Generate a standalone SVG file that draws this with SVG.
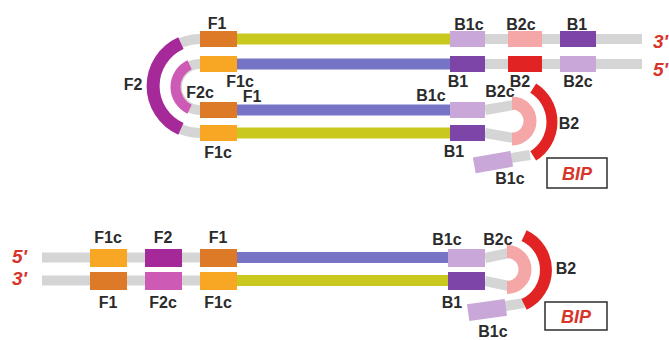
<svg xmlns="http://www.w3.org/2000/svg" width="669" height="340" viewBox="0 0 669 340">
  <style>
    .lbl { font-family: "Liberation Sans", Arial, sans-serif; font-weight: bold; font-size: 16px; fill: #2b2b2b; text-anchor: middle; }
    .end { font-family: "Liberation Sans", Arial, sans-serif; font-weight: bold; font-style: italic; font-size: 19px; fill: #d8352a; }
    .bip { font-family: "Liberation Sans", Arial, sans-serif; font-weight: bold; font-style: italic; font-size: 18px; fill: #d8352a; text-anchor: middle; }
    .bipbox { fill: none; stroke: #3a3a3a; stroke-width: 1.6; }
    .grey { stroke: #d5d5d5; stroke-width: 10; fill: none; }
    .yel { fill: #c9c81f; }
    .blu { fill: #7774c5; }
    .f1 { fill: #dc7a27; }
    .f1c { fill: #f7a724; }
    .f2 { fill: #a6299a; }
    .f2c { fill: #cd5bb5; }
    .b1 { fill: #7d45a8; }
    .b1c { fill: #c9a7d8; }
    .b2 { fill: #e12324; }
    .b2c { fill: #f5a7a8; }
    .arcF2 { fill: none; stroke: #a6299a; stroke-width: 13; }
    .arcF2c { fill: none; stroke: #cd5bb5; stroke-width: 10; }
    .arcB2 { fill: none; stroke: #e12324; stroke-width: 11; }
    .arcB2c { fill: none; stroke: #f5a7a8; stroke-width: 13; }
  </style>

  <!-- Upper structure: dumbbell with F loops and B loop -->
  <g id="connectors">
    <!-- grey single-strand linkers, upper structure -->
    <line class="grey" x1="485" y1="39" x2="642" y2="39"/>
    <line class="grey" x1="485" y1="64" x2="642" y2="64"/>
    <path class="grey" d="M200,39 A47,47 0 0 0 200,133"/>
    <path class="grey" d="M200,64 A23,23 0 0 0 200,110"/>
    <path class="grey" d="M485,110 L514,105"/>
    <path class="grey" d="M485,133 L514,138"/>
    <path class="grey" d="M505,159 L530,155"/>
    <!-- grey linkers, lower structure -->
    <line class="grey" x1="42" y1="257.5" x2="200" y2="257.5"/>
    <line class="grey" x1="42" y1="280.5" x2="200" y2="280.5"/>
    <path class="grey" d="M485,258 L509,253"/>
    <path class="grey" d="M485,281 L509,286"/>
    <path class="grey" d="M500,307 L524,303"/>
    <!-- double-stranded stems -->
    <rect class="yel" x="237" y="33.5" width="213" height="11"/>
    <rect class="blu" x="237" y="58.5" width="213" height="11"/>
    <rect class="blu" x="237" y="104.5" width="213" height="11"/>
    <rect class="yel" x="237" y="127.5" width="213" height="11"/>
    <rect class="blu" x="237" y="252" width="211" height="11"/>
    <rect class="yel" x="237" y="275" width="211" height="11"/>
  </g>

  <!-- upper structure, left loops -->
  <g id="loop-F2">
    <path class="arcF2" d="M180.9,43.1 A47,47 0 0 0 180.9,128.9"/>
    <text class="lbl" x="133" y="90">F2</text>
  </g>
  <g id="loop-F2c">
    <path class="arcF2c" d="M189.6,64.8 A24.5,24.5 0 0 0 189.6,109.2"/>
    <text class="lbl" x="200" y="98">F2c</text>
  </g>
  <g id="top-F1">
    <rect class="f1" x="200" y="31" width="37" height="16"/>
    <text class="lbl" x="217" y="29">F1</text>
  </g>
  <g id="top-F1c">
    <rect class="f1c" x="200" y="56" width="37" height="16"/>
    <text class="lbl" x="240" y="87">F1c</text>
  </g>
  <g id="mid-F1">
    <rect class="f1" x="200" y="102" width="37" height="16"/>
    <text class="lbl" x="252" y="102">F1</text>
  </g>
  <g id="mid-F1c">
    <rect class="f1c" x="200" y="125" width="37" height="16"/>
    <text class="lbl" x="218" y="158">F1c</text>
  </g>

  <!-- upper structure, right side -->
  <g id="top-B1c">
    <rect class="b1c" x="450" y="31" width="35" height="16"/>
    <text class="lbl" x="469" y="30">B1c</text>
  </g>
  <g id="top-B2c">
    <rect class="b2c" x="508" y="31" width="34" height="16"/>
    <text class="lbl" x="521" y="30">B2c</text>
  </g>
  <g id="top-B1">
    <rect class="b1" x="560" y="31" width="36" height="16"/>
    <text class="lbl" x="577" y="30">B1</text>
  </g>
  <g id="row2-B1">
    <rect class="b1" x="450" y="56" width="35" height="16"/>
    <text class="lbl" x="458" y="87">B1</text>
  </g>
  <g id="row2-B2">
    <rect class="b2" x="508" y="56" width="34" height="16"/>
    <text class="lbl" x="520" y="87">B2</text>
  </g>
  <g id="row2-B2c">
    <rect class="b1c" x="560" y="56" width="36" height="16"/>
    <text class="lbl" x="578" y="87">B2c</text>
  </g>
  <g id="ends-top">
    <text class="end" x="653" y="48">3'</text>
    <text class="end" x="653" y="76">5'</text>
  </g>
  <g id="mid-B1c">
    <rect class="b1c" x="450" y="102" width="35" height="16"/>
    <text class="lbl" x="431" y="101">B1c</text>
  </g>
  <g id="mid-B1">
    <rect class="b1" x="450" y="125" width="35" height="16"/>
    <text class="lbl" x="454" y="157">B1</text>
  </g>
  <g id="loop-B2c-top">
    <path class="arcB2c" d="M512,103 A18,18 0 0 1 512,139"/>
    <text class="lbl" x="500" y="97">B2c</text>
  </g>
  <g id="loop-B2-top">
    <path class="arcB2" d="M533.2,88.1 A40,40 0 0 1 533.2,155.9"/>
    <text class="lbl" x="569" y="129">B2</text>
  </g>
  <g id="tail-B1c-top">
    <rect class="b1c" x="-19" y="-8" width="38" height="16" transform="translate(493 162) rotate(-10)"/>
    <text class="lbl" x="510" y="184">B1c</text>
  </g>
  <g id="bip-top">
    <rect class="bipbox" x="547" y="158" width="60" height="30"/>
    <text class="bip" x="577" y="180">BIP</text>
  </g>

  <!-- Lower structure: linear BIP product -->
  <g id="ends-bottom">
    <text class="end" x="12" y="263">5'</text>
    <text class="end" x="12" y="285">3'</text>
  </g>
  <g id="low-F1c-top">
    <rect class="f1c" x="90" y="249" width="37" height="18"/>
    <text class="lbl" x="108" y="243">F1c</text>
  </g>
  <g id="low-F2-top">
    <rect class="f2" x="145" y="249" width="37" height="18"/>
    <text class="lbl" x="163" y="243">F2</text>
  </g>
  <g id="low-F1-top">
    <rect class="f1" x="200" y="249" width="37" height="18"/>
    <text class="lbl" x="218" y="243">F1</text>
  </g>
  <g id="low-F1-bot">
    <rect class="f1" x="90" y="272" width="37" height="18"/>
    <text class="lbl" x="108" y="308">F1</text>
  </g>
  <g id="low-F2c-bot">
    <rect class="f2c" x="145" y="272" width="37" height="18"/>
    <text class="lbl" x="163" y="308">F2c</text>
  </g>
  <g id="low-F1c-bot">
    <rect class="f1c" x="200" y="272" width="37" height="18"/>
    <text class="lbl" x="218" y="308">F1c</text>
  </g>
  <g id="low-B1c">
    <rect class="b1c" x="448" y="249" width="37" height="18"/>
    <text class="lbl" x="447" y="245">B1c</text>
  </g>
  <g id="low-B1">
    <rect class="b1" x="448" y="272" width="37" height="18"/>
    <text class="lbl" x="452" y="308">B1</text>
  </g>
  <g id="loop-B2c-low">
    <path class="arcB2c" d="M507,251.5 A18,18 0 0 1 507,287.5"/>
    <text class="lbl" x="498" y="245">B2c</text>
  </g>
  <g id="loop-B2-low">
    <path class="arcB2" d="M524.1,235.6 A38,38 0 0 1 524.1,304.4" style="stroke-width:12"/>
    <text class="lbl" x="566" y="274">B2</text>
  </g>
  <g id="tail-B1c-low">
    <rect class="b1c" x="-19" y="-8.5" width="38" height="17" transform="translate(487 310) rotate(-8)"/>
    <text class="lbl" x="493" y="337">B1c</text>
  </g>
  <g id="bip-low">
    <rect class="bipbox" x="545" y="302" width="62" height="28"/>
    <text class="bip" x="576" y="323">BIP</text>
  </g>
</svg>
